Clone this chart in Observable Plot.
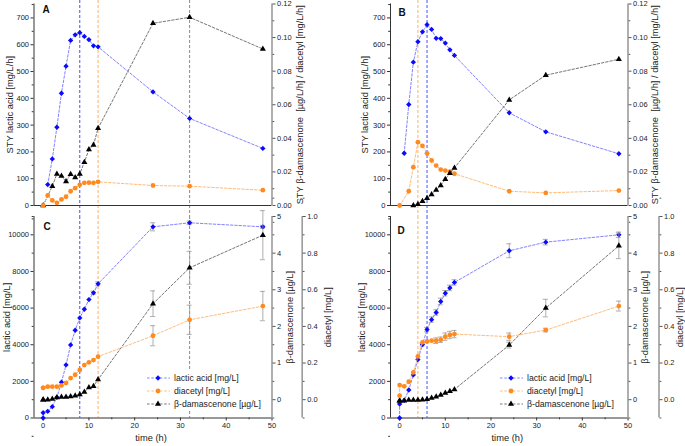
<!DOCTYPE html>
<html><head><meta charset="utf-8">
<script src="https://cdn.jsdelivr.net/npm/d3@7"></script>
<script src="https://cdn.jsdelivr.net/npm/@observablehq/plot@0.6"></script>
<style>
body{margin:0;background:#fff;}
#chart{position:relative;width:685px;height:446px;font-family:"Liberation Sans",Arial,sans-serif;overflow:hidden;}
#chart svg.layer{position:absolute;left:0;top:0;}
.legend{position:absolute;background:#fff;font-size:8.7px;color:#222;}
.legend .row{height:13px;display:flex;align-items:center;white-space:nowrap;}
.legend svg{margin-right:3px;}
</style></head><body><div id="chart"></div>
<script>
// ---------- data ----------
const time = [0,1,2,3,4,5,6,7,8,9,10,11,12,24,32,48];
const timeCD = [0,0,1,2,3,4,5,6,7,8,9,10,11,12,24,32,48];

// Panel A (STY)
const styLacticA   = [null,78,174,292,419,520,616,637,645,631,619,596,592,424,325,213];
const styDiacetylA = [0,.006,.003,.0016,.0036,.0052,.0085,.0103,.0123,.0135,.0136,.0135,.0141,.0119,.0115,.0091];
const styDamA      = [0,null,.0115,.0188,.0175,.0143,.0186,.0167,.0188,.0258,.0333,.0361,.046,.1085,.1121,.0932];
// Panel B (STY)
const styLacticB   = [null,195,377,535,611,648,675,657,624,623,606,581,560,346,275,193];
const styDiacetylB = [0,null,.0085,.0228,.0377,.0355,.0311,.0268,.0238,.0214,.0208,.0202,.0189,.0085,.0075,.0089];
const styDamB      = [null,null,null,0,.0008,.0026,.0043,.0065,.0093,.0119,.0157,.0192,.0224,.0629,.0776,.0871];
// Panel C (concentrations)
const lacticC      = [0,285,364,619,1130,1950,2896,3989,4790,5464,5938,6466,6831,7322,10437,10656,10437];
const lacticCErr   = [0,0,0,0,0,0,0,0,0,0,0,0,90,110,220,100,80];
const diacetylC    = [.065,.065,.071,.071,.071,.078,.091,.118,.136,.162,.189,.204,.216,.235,.349,.436,.511];
const diacetylCErr = [0,0,0,0,0,0,0,0,0,0,0,0,0,0,.055,.08,.08];
const damC         = [0,0,0,.02,.06,.07,.07,.09,.11,.14,.21,.33,.37,.55,2.62,3.60,4.49];
const damCErr      = [0,0,0,0,0,0,0,0,0,0,0,0,0,0,.35,.45,.67];
// Panel D (concentrations)
const lacticD      = [0,765,960,1530,2350,3190,4010,4830,5370,5760,6360,6810,7100,7400,9130,9600,10000];
const lacticDErr   = [0,0,0,0,0,0,80,120,150,150,180,150,150,150,380,150,150];
const diacetylD    = [.022,.08,.073,.098,.149,.236,.313,.318,.322,.322,.327,.344,.353,.358,.344,.38,.511];
const diacetylDErr = [0,0,0,0,0,0,0,0,0,.015,.015,.02,.02,.02,.02,.01,.027];
const damD         = [-.03,-.03,-.03,-.01,-.01,-.01,0,.01,.045,.08,.13,.18,.23,.28,1.49,2.5,4.2];
const damDErr      = [0,0,0,0,0,0,0,0,0,0,0,0,0,0,.08,.24,.35];

// marker lines (time, h)
const vlinesAC = [{t:8,c:"blue"},{t:12,c:"orange"},{t:32,c:"gray"}];
const vlinesBD = [{t:4,c:"orange"},{t:6,c:"blue"}];

// tick labels
const ticksSTY = [0,100,200,300,400,500,600,700];
const ticksSTYR = [0,.02,.04,.06,.08,.10,.12];
const ticksLac = [0,2000,4000,6000,8000,10000];
const ticksDam = [0,1,2,3,4,5];
const ticksDia = [0,.2,.4,.6,.8,1.0];
const ticksTime = [0,10,20,30,40,50];

// ---------- styling ----------
const W = 685, H = 446;
const FONT = "'Liberation Sans', Arial, sans-serif";
const BLUE = "#0a0aff", BLUE_L = "#7474ff";
const ORANGE = "#ff8a1f", ORANGE_L = "#ffb36a";
const BLACK = "#000", BLACK_L = "#666";
const VCOL = {blue:"#4b4bff", orange:"#ffb060", gray:"#8a8a8a"};
const XDOM = [-2, 50];
const R = {diamond: 2.4, circle: 2.4, triangle: 2.25};
const TITLE = 9.3;

const FA = {l:33.5, r:271.5, t:3.5, b:205};
const FB = {l:390, r:627.5, t:3.5, b:205};
const FC = {l:33.5, r:271.5, t:216, b:417.5};
const FD = {l:390, r:627.5, t:216, b:417.5};

function recs(ts, vs, es){
  const out = [];
  ts.forEach((t,i)=>{ if (vs[i] != null) out.push({t, v:vs[i], e: es ? es[i] : 0}); });
  return out;
}
function minorOf(ticks){
  const step = ticks[1]-ticks[0];
  const m = [ticks[0]-step/2];
  ticks.forEach(t=>m.push(t+step/2));
  return m;
}
function layer(frame, ydom, marks){
  const svg = Plot.plot({
    width: W, height: H,
    marginLeft: frame.l, marginRight: W-frame.r, marginTop: frame.t, marginBottom: H-frame.b,
    x: {domain: XDOM, axis: null},
    y: {domain: ydom, axis: null},
    style: {background:"transparent", fontFamily: FONT, fontSize:"7.5px", overflow:"visible", color:"#222"},
    marks
  });
  svg.classList.add("layer");
  return svg;
}
function yAxisMarks(anchor, ticks, fmt, opts={}){
  const dx = opts.dx || 0;
  const lineColor = opts.lineColor || "#333";
  const lw = opts.lw || 1;
  return [
    Plot.ruleX([anchor==="left" ? XDOM[0] : XDOM[1]], {stroke: lineColor, strokeWidth: lw, dx}),
    Plot.axisY({anchor, ticks, tickFormat: fmt, tickSize: 3, tickPadding: 2, label: null, dx, stroke: opts.tickColor || "#333"}),
    Plot.axisY({anchor, ticks: minorOf(ticks), tickFormat: () => "", tickSize: 1.8, label: null, dx, stroke: opts.tickColor || "#333"})
  ];
}
function seriesMarks(data, color, lineColor, symbol){
  const withErr = data.filter(d => d.e);
  return [
    Plot.ruleX(withErr, {x:"t", y1: d=>d.v-d.e, y2: d=>d.v+d.e, stroke:"#9a9a9a", strokeWidth:0.8}),
    Plot.ruleY(withErr, {y: d=>d.v+d.e, x1: d=>d.t-0.55, x2: d=>d.t+0.55, stroke:"#9a9a9a", strokeWidth:0.8}),
    Plot.ruleY(withErr, {y: d=>d.v-d.e, x1: d=>d.t-0.55, x2: d=>d.t+0.55, stroke:"#9a9a9a", strokeWidth:0.8}),
    Plot.line(data, {x:"t", y:"v", stroke: lineColor, strokeWidth: 0.9, strokeDasharray:"2.5,1.8"}),
    Plot.dot(data, {x:"t", y:"v", symbol: symbol === "diamond" ? "diamond2" : symbol, r: R[symbol], fill: color, stroke: "none"})
  ];
}
function vlineMarks(list, insetTop, insetBottom){
  return list.map(v => Plot.ruleX([v.t], {stroke: VCOL[v.c], strokeWidth: 1, strokeDasharray:"3,2", insetTop, insetBottom}));
}
function vlabel(text, anchor, dx){
  return Plot.text([text], {text: d=>d, frameAnchor: anchor, rotate: -90, dx, fontSize: TITLE, fill:"#222", textAnchor:"middle", lineAnchor:"middle"});
}
function letter(text, dx, dy){
  return Plot.text([text], {text: d=>d, frameAnchor:"top-left", dx, dy, fontSize: 10, fontWeight:"bold", textAnchor:"start", lineAnchor:"top", fill:"#111"});
}

const chart = document.getElementById("chart");
const f2 = d3.format(".2f"), f1 = d3.format(".1f"), f0 = d3.format("d");
const RL = {lineColor:"#9c9c9c", lw:1.6, tickColor:"#555"};

// ---------- Panel A ----------
chart.appendChild(layer(FA, [0, 752], [
  ...vlineMarks(vlinesAC, -3.5, -11),
  Plot.ruleY([0], {stroke:"#333", strokeWidth:1}),
  ...yAxisMarks("left", ticksSTY, f0),
  vlabel("STY lactic acid [mg/L/h]", "left", -23.5),
  letter("A", 8.5, 1.5),
  ...seriesMarks(recs(time, styLacticA), BLUE, BLUE_L, "diamond")
]));
chart.appendChild(layer(FA, [0, 0.12], [
  ...yAxisMarks("right", ticksSTYR, f2, RL),
  vlabel("STY β-damascenone  [µg/L/h] / diacetyl [mg/L/h]", "right", 28.5),
  ...seriesMarks(recs(time, styDamA), BLACK, BLACK_L, "triangle"),
  ...seriesMarks(recs(time, styDiacetylA), ORANGE, ORANGE_L, "circle")
]));

// ---------- Panel B ----------
chart.appendChild(layer(FB, [0, 752], [
  ...vlineMarks(vlinesBD, -3.5, -11),
  Plot.ruleY([0], {stroke:"#333", strokeWidth:1}),
  ...yAxisMarks("left", ticksSTY, f0),
  vlabel("STY lactic acid [mg/L/h]", "left", -25),
  letter("B", 8, 5),
  ...seriesMarks(recs(time, styLacticB), BLUE, BLUE_L, "diamond")
]));
chart.appendChild(layer(FB, [0, 0.12], [
  ...yAxisMarks("right", ticksSTYR, f2, RL),
  vlabel("STY β-damascenone  [µg/L/h] / diacetyl [mg/L/h]", "right", 27.5),
  ...seriesMarks(recs(time, styDiacetylB), ORANGE, ORANGE_L, "circle"),
  ...seriesMarks(recs(time, styDamB), BLACK, BLACK_L, "triangle")
]));

// ---------- Panels C and D ----------
function concPanel(F, lac, lacE, dia, diaE, dam, damE, vlines, L){
  chart.appendChild(layer(F, [0, 11000], [
    ...vlineMarks(vlines, 0, 0),
    Plot.ruleY([0], {stroke:"#333", strokeWidth:1}),
    Plot.axisX({ticks: ticksTime, tickFormat: f0, tickSize: 3, tickPadding: 2, label: null, stroke:"#333"}),
    Plot.axisX({ticks: [5,15,25,35,45], tickFormat: () => "", tickSize: 1.8, label: null, stroke:"#333"}),
    Plot.text(["time (h)"], {text: d=>d, frameAnchor:"bottom", dx: L.timeDx, dy: 22.5, fontSize: TITLE, fill:"#222"}),
    ...yAxisMarks("left", ticksLac, f0),
    vlabel("lactic acid [mg/L]", "left", L.lacDx),
    letter(L.letter, L.ldx, L.ldy),
    ...seriesMarks(recs(timeCD, lac, lacE), BLUE, BLUE_L, "diamond")
  ]));
  chart.appendChild(layer(F, [-0.5, 5], [
    ...yAxisMarks("right", ticksDam, f0, RL),
    vlabel("β-damascenone [µg/L]", "right", L.damDx),
    ...seriesMarks(recs(timeCD, dam, damE), BLACK, BLACK_L, "triangle")
  ]));
  chart.appendChild(layer(F, [-0.1, 1.0], [
    ...yAxisMarks("right", ticksDia, f1, {...RL, dx: L.diaAxisDx}),
    vlabel("diacetyl [mg/L]", "right", L.diaDx),
    ...seriesMarks(recs(timeCD, dia, diaE), ORANGE, ORANGE_L, "circle")
  ]));
}
concPanel(FC, lacticC, lacticCErr, diacetylC, diacetylCErr, damC, damCErr, vlinesAC,
  {letter:"C", ldx:9.5, ldy:6, lacDx:-27, damDx:18.5, diaAxisDx:30.2, diaDx:56.5, timeDx:-2});
concPanel(FD, lacticD, lacticDErr, diacetylD, diacetylDErr, damD, damDErr, vlinesBD,
  {letter:"D", ldx:7, ldy:10.5, lacDx:-28.5, damDx:17.5, diaAxisDx:31, diaDx:52.5, timeDx:-2});

// ---------- legends ----------
const legendItems = [
  {name:"lactic acid [mg/L]", color:BLUE, line:BLUE_L, sym:d3.symbolDiamond2, size:R.diamond},
  {name:"diacetyl [mg/L]", color:ORANGE, line:ORANGE_L, sym:d3.symbolCircle, size:R.circle},
  {name:"β-damascenone [µg/L]", color:BLACK, line:BLACK_L, sym:d3.symbolTriangle, size:R.triangle}
];
function addLegend(left, top){
  const div = document.createElement("div");
  div.className = "legend";
  div.style.left = left + "px"; div.style.top = top + "px";
  div.style.padding = "0 3px 0 3px";
  legendItems.forEach(it => {
    const row = document.createElement("div"); row.className = "row";
    const s = d3.create("svg").attr("width", 25).attr("height", 12);
    s.append("line").attr("x1",1).attr("x2",24).attr("y1",6).attr("y2",6)
      .attr("stroke", it.line).attr("stroke-width",0.9).attr("stroke-dasharray","2.5,1.8");
    s.append("path").attr("transform","translate(12,6)")
      .attr("d", d3.symbol(it.sym, Math.PI*it.size*it.size)()).attr("fill", it.color);
    row.appendChild(s.node());
    const sp = document.createElement("span"); sp.textContent = it.name;
    row.appendChild(sp);
    div.appendChild(row);
  });
  chart.appendChild(div);
}
addLegend(143, 371);
addLegend(496, 371);
</script>
</body></html>
